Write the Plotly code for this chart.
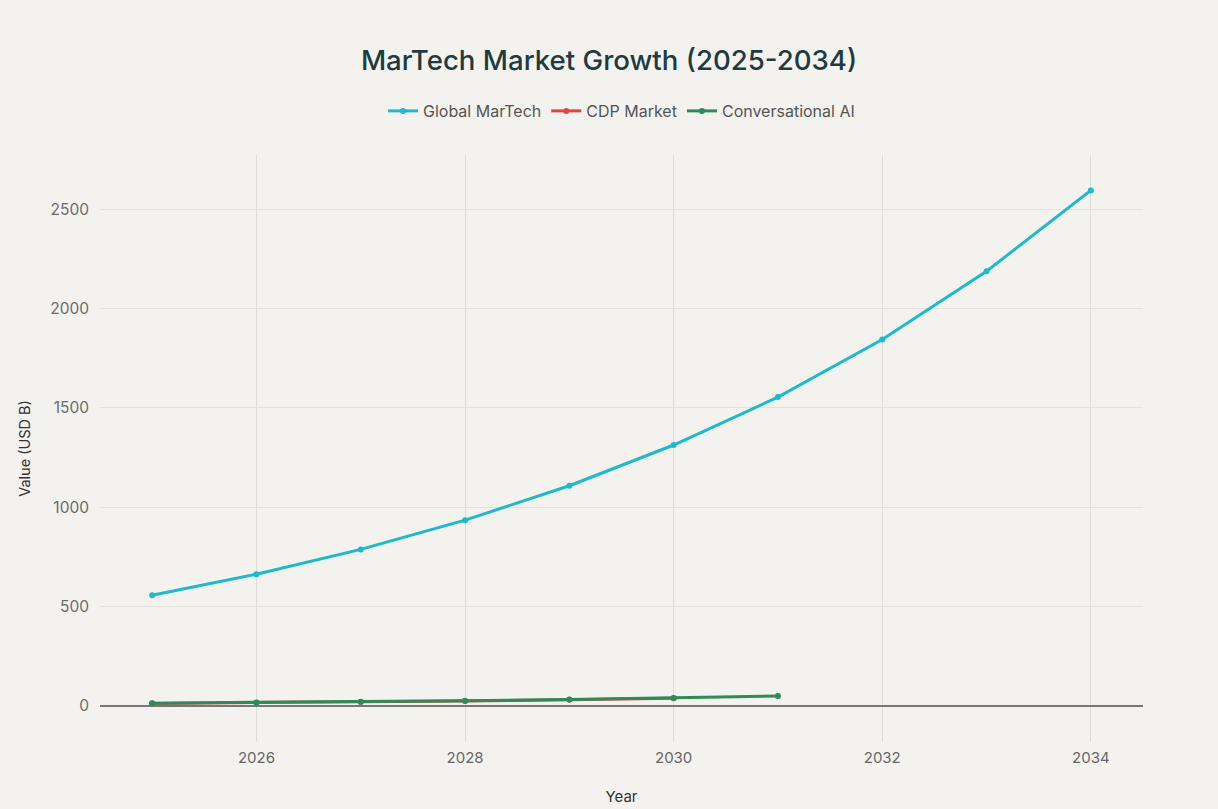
import plotly.graph_objects as go

# Market size estimates, USD billions
years = [2025, 2026, 2027, 2028, 2029, 2030, 2031, 2032, 2033, 2034]
global_martech = [557, 663, 788, 935, 1108, 1313, 1554, 1844, 2187, 2594]

cdp_years = [2025, 2026, 2027, 2028, 2029, 2030]
cdp_market = [13.1, 16.4, 20.4, 25.5, 31.6, 39.3]

conv_ai_years = [2025, 2026, 2027, 2028, 2029, 2030, 2031]
conv_ai = [14.3, 17.6, 21.7, 26.8, 33.0, 40.7, 50.2]

colors = ["#1FB8CD", "#DB4545", "#2E8B57"]
FONT = "Inter, Liberation Sans, Arial, sans-serif"

fig = go.Figure()
fig.add_trace(go.Scatter(x=years, y=global_martech, name="Global MarTech",
                         mode="lines+markers", line=dict(color=colors[0], width=3),
                         marker=dict(size=6)))
fig.add_trace(go.Scatter(x=cdp_years, y=cdp_market, name="CDP Market",
                         mode="lines+markers", line=dict(color=colors[1], width=3),
                         marker=dict(size=6)))
fig.add_trace(go.Scatter(x=conv_ai_years, y=conv_ai, name="Conversational AI",
                         mode="lines+markers", line=dict(color=colors[2], width=3),
                         marker=dict(size=6)))

fig.update_layout(
    width=1218, height=809,
    paper_bgcolor="#F3F2EE", plot_bgcolor="#F3F2EE",
    font=dict(family=FONT, color="#555555", size=14),
    title=dict(text="MarTech Market Growth (2025-2034)", x=0.5, xanchor="center",
               y=0.926, yanchor="middle",
               font=dict(size=27.6, color="#1F3A40", family=FONT, weight=500)),
    legend=dict(orientation="h", x=0.5, xanchor="center", y=1.075, yanchor="middle",
                font=dict(size=16, color="#555555"), bgcolor="rgba(0,0,0,0)"),
    margin=dict(l=100, r=75, t=155, b=67),
    showlegend=True,
)
fig.update_xaxes(title=dict(text="Year", font=dict(size=15, color="#333333"), standoff=25),
                 automargin=False,
                 range=[2024.5, 2034.5], dtick=2, tick0=2026,
                 showgrid=True, gridcolor="#DEDDD8", gridwidth=1,
                 zeroline=False, showline=False, ticks="", ticklabelstandoff=5,
                 tickfont=dict(size=15, color="#666666"))
fig.update_yaxes(title=dict(text="Value (USD B)", font=dict(size=14.5, color="#333333"), standoff=16),
                 automargin=False,
                 range=[-181, 2772], dtick=500,
                 showgrid=True, gridcolor="#E3E2DD", gridwidth=1,
                 zeroline=True, zerolinecolor="#777777", zerolinewidth=1.5,
                 showline=False, ticks="", ticklabelstandoff=10,
                 tickfont=dict(size=15.5, color="#6A6A6A"))

fig.write_html("out.html")
